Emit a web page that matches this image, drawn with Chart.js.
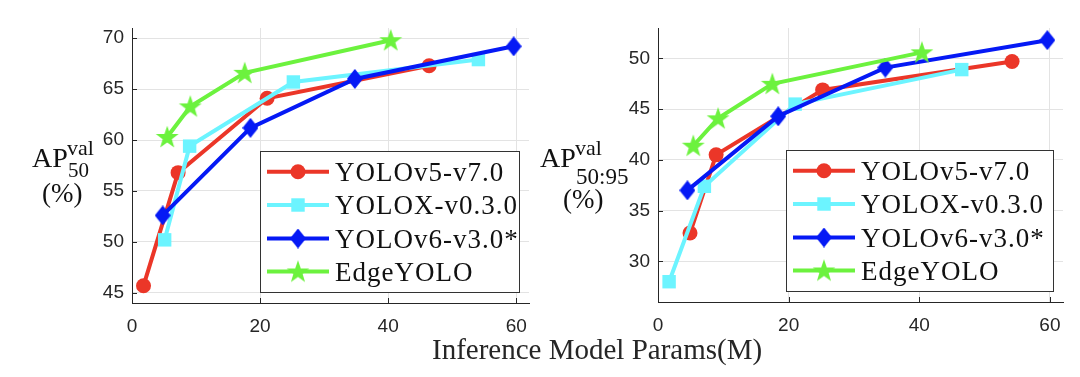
<!DOCTYPE html>
<html>
<head>
<meta charset="utf-8">
<script src="https://cdn.jsdelivr.net/npm/chart.js@4/dist/chart.umd.min.js"></script>
<style>
  html, body { margin: 0; padding: 0; background: #fff; }
  #wrap { position: relative; width: 1080px; height: 377px; overflow: hidden; background: #fff; }
  canvas { position: absolute; top: 0; }
  #cL { left: 0; }
  #cR { left: 530px; }
  #xlabel { position: absolute; left: 432px; top: 335px; font: 29px "Liberation Serif", "Times New Roman", serif; line-height: 29px; color: #262626; white-space: nowrap; }
</style>
</head>
<body>
<div id="wrap">
  <canvas id="cL" width="540" height="377"></canvas>
  <canvas id="cR" width="550" height="377"></canvas>
  <div id="xlabel">Inference Model Params(M)</div>
</div>
<script>
// ---------- data ----------
const seriesNames = ['YOLOv5-v7.0', 'YOLOX-v0.3.0', 'YOLOv6-v3.0*', 'EdgeYOLO'];

// Left panel: AP50 (val)
const v5ParamsL   = [1.8, 7.2, 21.1, 46.4];
const v5AP50      = [45.7, 56.8, 64.1, 67.3];
const xParamsL    = [5.1, 9.0, 25.2, 54.1];
const xAP50       = [50.2, 59.4, 65.7, 67.9];
const v6ParamsL   = [4.8, 18.5, 34.8, 59.6];
const v6AP50      = [52.6, 61.2, 66.0, 69.2];
const edgeParamsL = [5.5, 9.1, 17.6, 40.4];
const edgeAP50    = [60.3, 63.3, 66.6, 69.8];

// Right panel: AP50:95 (val)
const v5ParamsR   = [4.9, 8.9, 25.2, 54.2];
const v5AP5095    = [32.8, 40.5, 46.9, 49.7];
const xParamsR    = [1.7, 7.1, 21.0, 46.5];
const xAP5095     = [28.0, 37.4, 45.5, 48.9];
const v6ParamsR   = [4.5, 18.4, 34.8, 59.6];
const v6AP5095    = [37.0, 44.3, 49.1, 51.8];
const edgeParamsR = [5.4, 9.2, 17.5, 40.4];
const edgeAP5095  = [41.4, 44.1, 47.5, 50.6];

const xTicks      = [0, 20, 40, 60];
const yTicksL     = [45, 50, 55, 60, 65, 70];
const yTicksR     = [30, 35, 40, 45, 50];

// ---------- styles ----------
const RED = 'rgb(235,54,40)';
const CYAN = 'rgb(108,244,255)';
const BLUE = 'rgb(5,25,245)';
const GREEN = 'rgb(108,242,62)';
const AXIS = '#262626';
const GRID = '#e3e3e3';

function makeDiamond(color) {
  const c = document.createElement('canvas');
  c.width = 16; c.height = 20;
  const g = c.getContext('2d');
  g.fillStyle = color;
  g.beginPath();
  g.moveTo(8, 0); g.lineTo(16, 10); g.lineTo(8, 20); g.lineTo(0, 10); g.closePath();
  g.fill();
  return c;
}
function makeStar(color) {
  const c = document.createElement('canvas');
  c.width = 24; c.height = 24;
  const g = c.getContext('2d');
  g.fillStyle = color;
  g.beginPath();
  const R = 12, r = 4.8, cx = 12, cy = 12.8;
  for (let i = 0; i < 10; i++) {
    const a = -Math.PI / 2 + i * Math.PI / 5;
    const rr = i % 2 === 0 ? R : r;
    const px = cx + rr * Math.cos(a), py = cy + rr * Math.sin(a);
    if (i === 0) g.moveTo(px, py); else g.lineTo(px, py);
  }
  g.closePath();
  g.fill();
  return c;
}
const diamondImg = makeDiamond(BLUE);
const starImg = makeStar(GREEN);

function pts(xs, ys) { return xs.map((x, i) => ({ x: x, y: ys[i] })); }

function datasets(pairs) {
  const styles = [
    { color: RED,   pointStyle: 'circle', pointRadius: 7.5, order: 4 },
    { color: CYAN,  pointStyle: 'rect',   pointRadius: 9.5, order: 3 },
    { color: BLUE,  pointStyle: diamondImg, pointRadius: 8, order: 2 },
    { color: GREEN, pointStyle: starImg,  pointRadius: 11, order: 1 }
  ];
  return pairs.map((p, i) => ({
    label: seriesNames[i],
    data: pts(p[0], p[1]),
    borderColor: styles[i].color,
    backgroundColor: styles[i].color,
    pointBackgroundColor: styles[i].color,
    pointBorderColor: styles[i].color,
    pointBorderWidth: 0,
    pointStyle: styles[i].pointStyle,
    pointRadius: styles[i].pointRadius,
    pointHoverRadius: styles[i].pointRadius,
    borderWidth: 4,
    tension: 0,
    order: styles[i].order,
    fill: false
  }));
}

function drawMarker(ctx, ds, x, y) {
  const st = ds.pointStyle;
  ctx.fillStyle = ds.pointBackgroundColor;
  if (st === 'circle') {
    ctx.beginPath(); ctx.arc(x, y, ds.pointRadius, 0, Math.PI * 2); ctx.fill();
  } else if (st === 'rect') {
    const s = ds.pointRadius / Math.SQRT2;
    ctx.fillRect(x - s, y - s, 2 * s, 2 * s);
  } else {
    ctx.drawImage(st, x - st.width / 2, y - st.height / 2);
  }
}

const panelPlugin = {
  id: 'panelDecor',
  beforeDatasetsDraw(chart, args, opts) {
    const ctx = chart.ctx, a = chart.chartArea;
    const xs = chart.scales.x, ys = chart.scales.y;
    ctx.save();
    ctx.strokeStyle = AXIS; ctx.lineWidth = 1;
    ctx.beginPath();
    xTicks.forEach(v => { const px = Math.round(xs.getPixelForValue(v)) + 0.5; ctx.moveTo(px, a.bottom); ctx.lineTo(px, a.bottom - 5); });
    opts.yTicks.forEach(v => { const py = Math.round(ys.getPixelForValue(v)) + 0.5; ctx.moveTo(a.left, py); ctx.lineTo(a.left + 5, py); });
    ctx.stroke();
    ctx.restore();
  },
  afterDraw(chart, args, opts) {
    const ctx = chart.ctx, a = chart.chartArea;
    ctx.save();
    // legend box
    const L = a.left + 128, R = a.right - 10, T = a.bottom - 152, B = a.bottom - 11;
    ctx.fillStyle = '#fff';
    ctx.fillRect(L, T, R - L, B - T);
    ctx.strokeStyle = '#333'; ctx.lineWidth = 1;
    ctx.strokeRect(Math.round(L) + 0.5, Math.round(T) + 0.5, Math.round(R - L), Math.round(B - T));
    const rows = [20.7, 54, 87.5, 120.5];
    chart.data.datasets.forEach((ds, i) => {
      const cy = T + rows[i];
      ctx.strokeStyle = ds.borderColor; ctx.lineWidth = 4;
      ctx.beginPath(); ctx.moveTo(L + 7, cy); ctx.lineTo(L + 69, cy); ctx.stroke();
      drawMarker(ctx, ds, L + 38, cy);
      ctx.fillStyle = '#111';
      ctx.font = '27px "Liberation Serif", "Times New Roman", serif';
      try { ctx.letterSpacing = '1px'; } catch (e) {}
      ctx.textBaseline = 'alphabetic';
      ctx.textAlign = 'left';
      ctx.fillText(ds.label, L + 75, cy + 9);
      try { ctx.letterSpacing = '0px'; } catch (e) {}
    });
    // y axis title: AP^val_sub (%)
    const t = opts.title;
    ctx.fillStyle = '#111';
    ctx.textAlign = 'left';
    ctx.textBaseline = 'alphabetic';
    ctx.font = '28px "Liberation Serif", "Times New Roman", serif';
    ctx.fillText('AP', t.x, t.y);
    ctx.font = '22px "Liberation Serif", "Times New Roman", serif';
    ctx.fillText('val', t.x + 35, t.y - 12);
    ctx.font = t.subSize + 'px "Liberation Serif", "Times New Roman", serif';
    ctx.fillText(t.sub, t.x + 36, t.y + t.subDy);
    ctx.font = '27px "Liberation Serif", "Times New Roman", serif';
    ctx.fillText('(%)', t.x + t.pctDx, t.y + t.pctDy);
    ctx.restore();
  }
};

function makeChart(id, pairs, yMin, yMax, yTicks, areaLeft, areaRight, areaBottom, title) {
  const canvas = document.getElementById(id);
  return new Chart(canvas, {
    type: 'line',
    data: { datasets: datasets(pairs) },
    options: {
      responsive: false,
      animation: false,
      devicePixelRatio: 1,
      layout: { padding: { left: 0, top: 28, right: canvas.width - areaRight, bottom: 0 } },
      plugins: { legend: { display: false }, tooltip: { enabled: false }, panelDecor: { yTicks: yTicks, title: title } },
      scales: {
        x: {
          type: 'linear', min: 0, max: 62,
          afterBuildTicks: s => { s.ticks = xTicks.map(v => ({ value: v })); },
          afterFit: s => { s.height = canvas.height - areaBottom; },
          grid: { color: GRID, drawTicks: false, lineWidth: 1 },
          border: { display: true, color: AXIS, width: 1 },
          ticks: { padding: 12, color: AXIS, font: { family: '"Liberation Sans", Arial, sans-serif', size: 19 } }
        },
        y: {
          type: 'linear', min: yMin, max: yMax,
          afterBuildTicks: s => { s.ticks = yTicks.map(v => ({ value: v })); },
          afterFit: s => { s.width = areaLeft; },
          grid: { color: GRID, drawTicks: false, lineWidth: 1 },
          border: { display: true, color: AXIS, width: 1 },
          ticks: { padding: 8, color: AXIS, font: { family: '"Liberation Sans", Arial, sans-serif', size: 19 } }
        }
      }
    },
    plugins: [panelPlugin]
  });
}

makeChart('cL',
  [[v5ParamsL, v5AP50], [xParamsL, xAP50], [v6ParamsL, v6AP50], [edgeParamsL, edgeAP50]],
  44, 71, yTicksL, 132, 535, 303,
  { x: 32, y: 167, sub: '50', subSize: 21, subDy: 10, pctDx: 10, pctDy: 35 });

makeChart('cR',
  [[v5ParamsR, v5AP5095], [xParamsR, xAP5095], [v6ParamsR, v6AP5095], [edgeParamsR, edgeAP5095]],
  26, 53, yTicksR, 128, 533, 302,
  { x: 10, y: 167, sub: '50:95', subSize: 23, subDy: 17, pctDx: 23, pctDy: 41 });
</script>
</body>
</html>
